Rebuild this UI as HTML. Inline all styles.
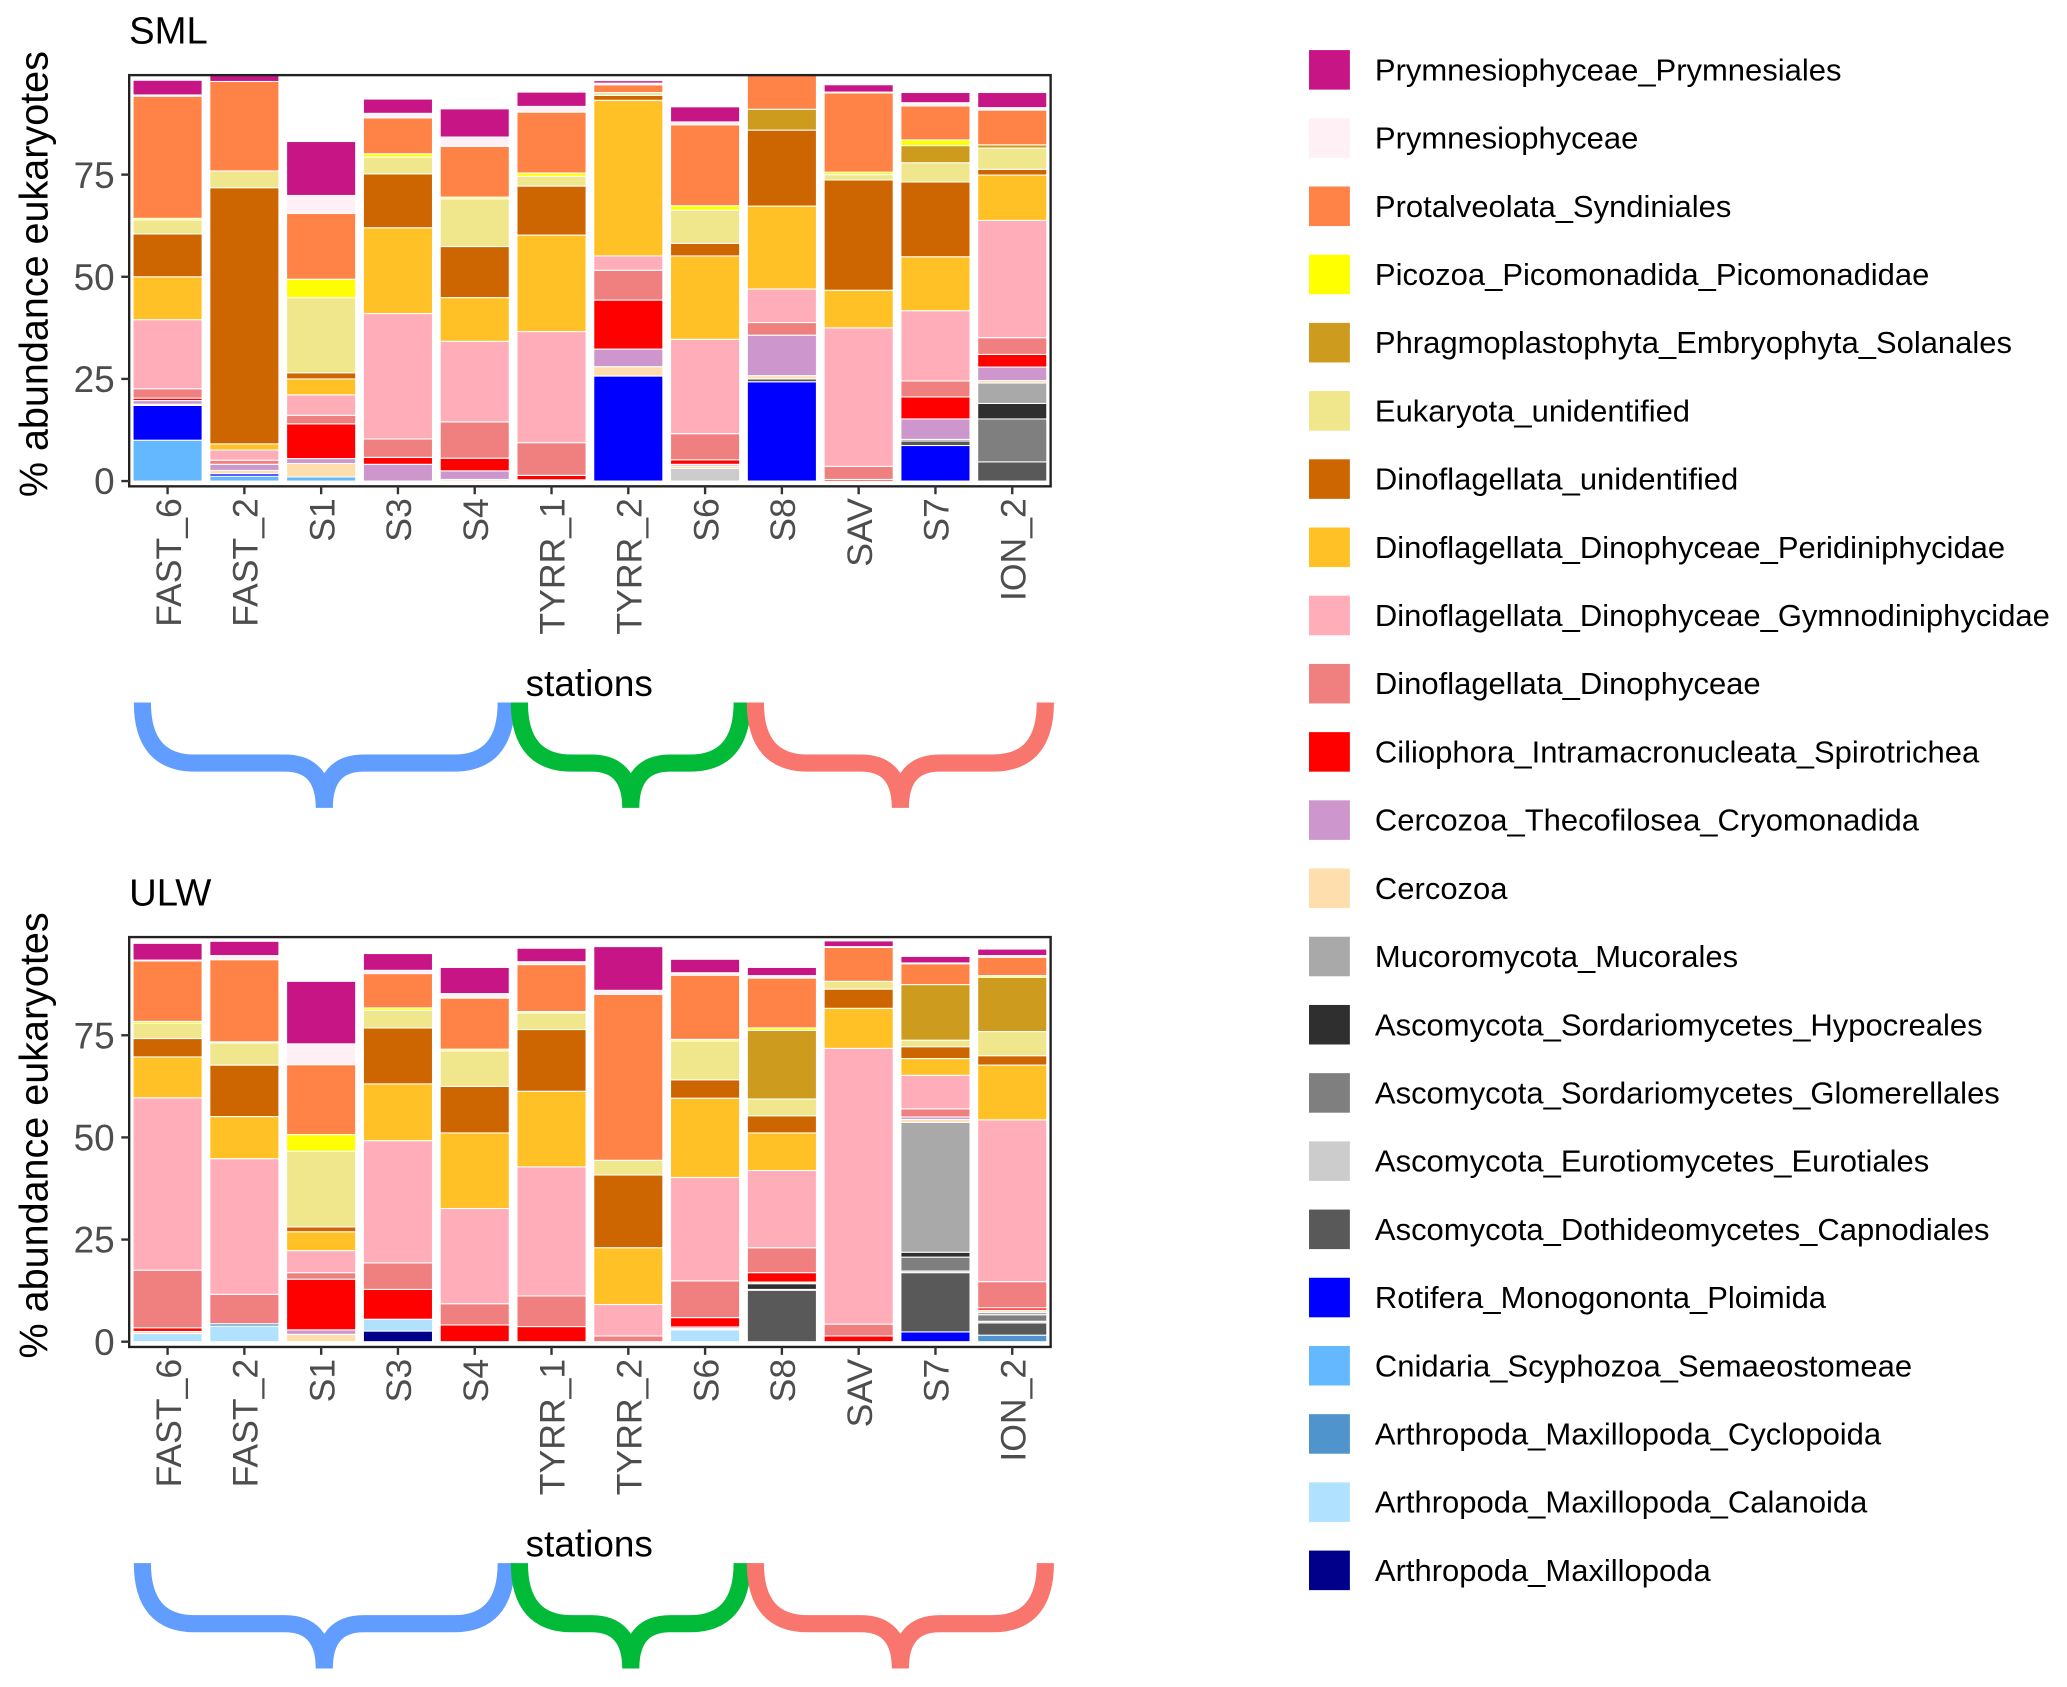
<!DOCTYPE html>
<html><head><meta charset="utf-8"><style>
html,body{margin:0;padding:0;background:#fff;}
svg{display:block;font-family:"Liberation Sans",Arial,sans-serif;}
</style></head><body>
<svg id="chart" width="2067" height="1687" viewBox="0 0 1568 1280" preserveAspectRatio="none" xmlns="http://www.w3.org/2000/svg"></svg>
<script>
const categories = ["Prymnesiophyceae_Prymnesiales","Prymnesiophyceae","Protalveolata_Syndiniales","Picozoa_Picomonadida_Picomonadidae","Phragmoplastophyta_Embryophyta_Solanales","Eukaryota_unidentified","Dinoflagellata_unidentified","Dinoflagellata_Dinophyceae_Peridiniphycidae","Dinoflagellata_Dinophyceae_Gymnodiniphycidae","Dinoflagellata_Dinophyceae","Ciliophora_Intramacronucleata_Spirotrichea","Cercozoa_Thecofilosea_Cryomonadida","Cercozoa","Mucoromycota_Mucorales","Ascomycota_Sordariomycetes_Hypocreales","Ascomycota_Sordariomycetes_Glomerellales","Ascomycota_Eurotiomycetes_Eurotiales","Ascomycota_Dothideomycetes_Capnodiales","Rotifera_Monogononta_Ploimida","Cnidaria_Scyphozoa_Semaeostomeae","Arthropoda_Maxillopoda_Cyclopoida","Arthropoda_Maxillopoda_Calanoida","Arthropoda_Maxillopoda"];
const colors = ["#C71585","#FFF0F5","#FF8247","#FFFF00","#CD9B1D","#F0E68C","#CD6600","#FFC125","#FFAEB9","#F08080","#FF0000","#CD96CD","#FFDEAD","#A9A9A9","#2F2F2F","#7F7F7F","#CCCCCC","#595959","#0000FF","#63B8FF","#4F94CD","#B0E2FF","#00008B"];
const stations = ["FAST_6","FAST_2","S1","S3","S4","TYRR_1","TYRR_2","S6","S8","SAV","S7","ION_2"];
const yTicks = [0,25,50,75];
const smlValues = [
 [3.6,0.3,29.9,0.4,0,3.4,10.5,10.5,16.9,2.3,0.6,0.9,0.3,0,0,0,0,0,8.5,10,0,0,0],
 [1.5,0,21.9,0,0,4.1,62.7,1.5,2.5,1.0,0,1.5,0.8,0,0,0,0,0,0.6,1.2,0,0,0],
 [13.2,4.4,16.1,4.5,0,18.4,1.5,3.9,5.0,2.1,8.5,1.2,3.3,0,0,0,0,0,0,1.0,0,0,0],
 [3.5,1.1,8.8,0.8,0,4.1,13.2,21,30.7,4.5,1.7,4.1,0,0,0,0,0,0,0,0,0,0,0],
 [6.9,2.3,12.4,0.4,0,11.7,12.5,10.7,19.7,8.9,3.1,2.1,0.4,0,0,0,0,0,0,0,0,0,0],
 [3.5,1.4,14.9,0.8,0,2.4,12.0,23.6,27.2,8.0,1.1,0.3,0,0,0,0,0,0,0,0,0,0,0],
 [0.6,0.4,1.9,0,0,0.7,1.2,38.1,3.5,7.3,12.0,4.3,2.3,0,0,0,0,0,25.7,0,0,0,0],
 [3.7,0.7,19.8,1.1,0,8.1,3.1,20.4,23.1,6.4,1.1,0.4,0.6,0,0,0,3.1,0,0,0,0,0,0],
 [0,0,8.7,0,5.1,0,18.6,20.3,8.2,3.1,0,9.9,0.8,0,0,0,0,0.7,24.3,0,0,0,0],
 [1.8,0.2,19.4,0.6,0,1.3,27,9.2,33.9,3.2,0.4,0,0,0,0,0,0,0,0,0,0,0,0],
 [2.5,0.8,8.3,1.4,4.2,4.7,18.3,13.2,17.2,3.9,5.4,5.0,0,0,0,0.4,0,1.1,8.7,0,0,0,0],
 [3.7,0.6,8.5,0,0.8,5.2,1.4,11.1,28.7,4.1,3.1,3.3,0.6,5.0,3.8,10.5,0,4.7,0,0,0,0,0]
];
const ulwValues = [
 [4.1,0.2,14.8,0.5,0,3.7,4.5,10.0,42.2,14.1,0.9,0,0.5,0,0,0,0,0,0,0,0,2.0,0],
 [3.5,1.0,20.1,0.3,0,5.4,12.6,10.3,33.2,7.2,0,0,0,0,0,0,0,0,0,0,0.6,3.8,0],
 [15.3,5.1,17.1,4.1,0,18.5,1.2,4.6,5.4,1.6,12.4,1.1,1.8,0,0,0,0,0,0,0,0,0,0],
 [4.1,0.8,8.4,0.6,0,4.3,13.7,13.9,29.9,6.5,7.3,0,0,0,0,0,0,0,0,0,0,2.9,2.6],
 [6.4,1.1,12.5,0.4,0,8.7,11.4,18.5,23.3,5.2,4.1,0,0,0,0,0,0,0,0,0,0,0,0],
 [3.3,0.7,11.5,0.3,0,4.1,15.1,18.5,31.6,7.5,3.7,0,0,0,0,0,0,0,0,0,0,0,0],
 [10.7,1.0,40.6,0,0,3.6,17.8,13.9,7.7,1.4,0,0,0,0,0,0,0,0,0,0,0,0,0],
 [3.3,0.6,15.7,0.4,0,9.5,4.5,19.4,25.3,9.0,2.3,0.4,0.3,0,0,0,0,0,0,0,0,2.9,0],
 [2.0,0.6,12.2,0.6,16.8,4.1,4.2,9.2,18.9,6.1,2.3,0,0.4,0,1.4,0,0.2,12.6,0,0,0,0,0],
 [1.4,0.2,8.3,0,0,1.9,4.7,9.8,67.5,2.9,1.4,0,0,0,0,0,0,0,0,0,0,0,0],
 [1.6,0.2,5.1,0,13.6,1.6,2.9,4.1,8.2,2.0,0,0.6,0.7,31.8,1.2,3.4,0.4,14.5,2.4,0,0,0,0],
 [1.6,0.4,4.5,0.4,13.3,5.9,2.3,13.4,39.6,6.4,0.6,0,0.5,0.6,0,1.6,0.4,3.0,0,0,1.6,0,0]
];
const NS="http://www.w3.org/2000/svg";
const svg=document.getElementById('chart');
function mk(tag,attrs,parent){const e=document.createElementNS(NS,tag);for(const k in attrs)e.setAttribute(k,attrs[k]);(parent||svg).appendChild(e);return e;}
const X0=98,X1=797,STEP=(X1-X0)/12,BW=STEP*0.9;
function xPos(i){return X0+STEP*(i+0.5);}
function drawPanel(name,title,values,zeroY,topY,braceY){
  const g=mk('g',{});
  
  
  const yPos=v=>zeroY-v*77.5/25;
  const t=mk('text',{x:98,y:topY-24,'font-size':29,fill:'#000'},g);t.textContent=title;
  
  
  values.forEach((vals,i)=>{
    let cum=0;
    for(let c=categories.length-1;c>=0;c--){
      const v=vals[c]; if(!v) continue;
      const r=mk('rect',{x:xPos(i)-BW/2,y:yPos(cum+v),width:BW,height:yPos(cum)-yPos(cum+v),fill:colors[c],stroke:'#fff','stroke-width':0.8},g);
      
      
      cum+=v;
    }
  });
  const fr=mk('rect',{x:X0,y:topY,width:X1-X0,height:zeroY+4-topY,fill:'none',stroke:'#222','stroke-width':1.8},g);
  
  
  yTicks.forEach(v=>{
    mk('line',{x1:X0-6,x2:X0,y1:yPos(v),y2:yPos(v),stroke:'#333','stroke-width':1.8},g);
    const tt=mk('text',{x:X0-11,y:yPos(v)+10,'text-anchor':'end','font-size':28,fill:'#4d4d4d'},g);tt.textContent=v;
    
    
  });
  stations.forEach((s,i)=>{
    mk('line',{x1:xPos(i),x2:xPos(i),y1:zeroY+4,y2:zeroY+10,stroke:'#333','stroke-width':1.8},g);
    const tt=mk('text',{x:0,y:0,'text-anchor':'end','font-size':27,fill:'#4d4d4d',transform:`translate(${xPos(i)+10},${zeroY+13}) rotate(-90)`},g);tt.textContent=s;
    
    
  });
  const yt=mk('text',{x:0,y:0,'text-anchor':'middle','font-size':30,fill:'#000',transform:`translate(36,${(zeroY+topY)/2-3}) rotate(-90)`},g);yt.textContent='% abundance eukaryotes';
  
  
  const xt=mk('text',{x:447,y:zeroY+163,'text-anchor':'middle','font-size':28,fill:'#000'},g);xt.textContent='stations';
  
  
  const braces=[[103,389,'#619CFF'],[389,568,'#00BA38'],[568,798,'#F8766D']];
  braces.forEach(([a,b,col],k)=>{
    const m=(a+b)/2,y0=braceY-4,ym=braceY+42,yt2=braceY+76;
    const d=`M${a+5},${y0} Q${a+5},${ym} ${a+45},${ym} L${m-30},${ym} Q${m},${ym} ${m},${yt2} Q${m},${ym} ${m+30},${ym} L${b-45},${ym} Q${b-5},${ym} ${b-5},${y0}`;
    const p=mk('path',{d:d,fill:'none',stroke:col,'stroke-width':13},g);
    
    
  });
}
drawPanel('sml','SML',smlValues,365,57,537);
drawPanel('ulw','ULW',ulwValues,1018,711,1190);
const lg=mk('g',{});


categories.forEach((c,i)=>{
  const y=53+i*51.75;
  const r=mk('rect',{x:993,y:y-15,width:31,height:30,fill:colors[i]},lg);
  
  
  const t=mk('text',{x:1043,y:y+8,'font-size':23.5,fill:'#000'},lg);t.textContent=c;
  
  
});
</script>
</body></html>
